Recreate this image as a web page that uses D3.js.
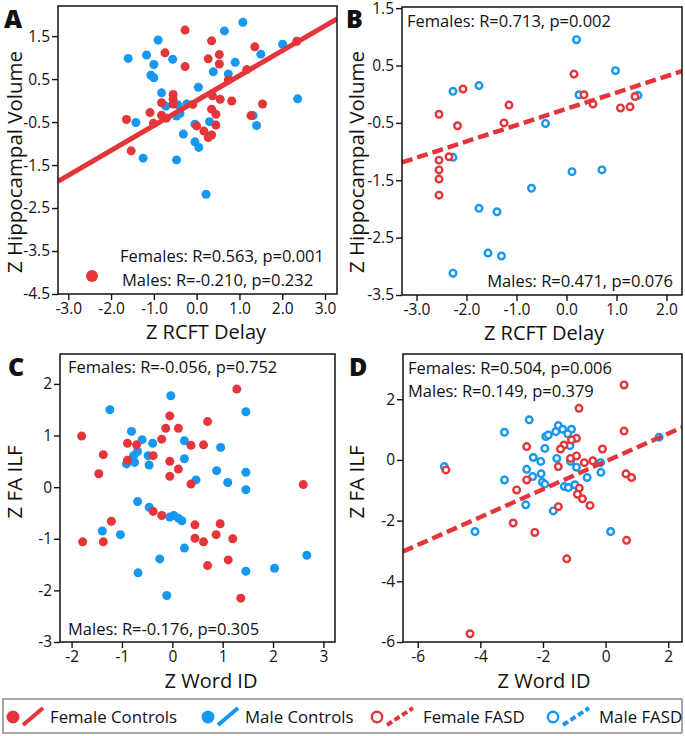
<!DOCTYPE html>
<html><head><meta charset="utf-8">
<script src="https://cdn.jsdelivr.net/npm/d3@7"></script>
<style>
body{margin:0;background:#fff}
svg{display:block}
text{font-family:"Open Sans",sans-serif;fill:#111}
</style>
</head><body>
<svg id="chart" width="685" height="736"></svg>
<script>
// ---------- DATA ----------
// Panel A: Z RCFT Delay vs Z Hippocampal Volume (controls)
const aFemale = [[-0.27,1.64],[0.35,1.39],[-0.74,1.11],[0.53,1.07],[0.27,0.97],[0.53,0.85],[-0.27,0.79],[1.36,1.25],[2.34,1.38],[1.17,0.72],[0.74,0.48],[-0.55,0.14],[-0.55,0.03],[-0.55,-0.08],[-0.82,-0.05],[-0.09,-0.09],[0.37,0.11],[0.55,0.03],[0.82,-0.01],[1.54,-0.08],[-1.09,-0.28],[-0.82,-0.34],[-0.71,-0.41],[-1.64,-0.44],[-1.01,-0.53],[0.35,-0.2],[0.45,-0.32],[0.45,-0.57],[0.0,-0.59],[0.17,-0.71],[0.35,-0.8],[0.27,-0.86],[1.27,-0.35],[-1.53,-1.17]];
const aMale = [[1.08,1.82],[0.65,1.62],[-0.9,1.41],[-1.17,1.06],[-1.6,0.98],[-1.0,0.84],[-0.56,0.96],[-1.07,0.59],[-1.0,0.53],[0.39,0.67],[0.9,0.89],[0.74,0.62],[2.01,1.31],[1.5,1.08],[0.04,0.31],[-0.82,0.18],[-0.72,-0.13],[-0.44,-0.1],[-0.23,-0.08],[-0.39,-0.3],[-0.47,-0.36],[2.36,0.04],[1.32,-0.35],[-1.42,-0.51],[1.4,-0.58],[0.3,-0.49],[-0.04,-0.55],[-0.31,-0.78],[-0.04,-0.96],[0.05,-1.09],[-1.25,-1.34],[-0.47,-1.38],[0.22,-2.18]];
const aFemaleFit = [0.58, 0.0];   // slope, intercept

// Panel B: Z RCFT Delay vs Z Hippocampal Volume (FASD)
const bFemale = [[-2.07,0.09],[-2.55,-0.35],[-2.18,-0.55],[-1.15,-0.19],[-1.25,-0.5],[-2.35,-1.09],[-2.55,-1.15],[-2.55,-1.32],[-2.55,-1.48],[-2.55,-1.76],[0.15,0.35],[0.35,-0.01],[0.53,-0.17],[1.08,-0.24],[1.27,-0.22],[1.37,-0.04]];
const bMale = [[0.2,0.95],[0.98,0.41],[-1.75,0.15],[-2.27,0.05],[0.25,-0.01],[1.43,-0.02],[-0.42,-0.51],[-2.27,-1.1],[0.11,-1.35],[0.71,-1.32],[-0.7,-1.64],[-1.75,-1.99],[-1.39,-2.05],[-1.57,-2.77],[-1.3,-2.82],[-2.27,-3.12]];
const bFemaleFit = [0.284, -0.255];

// Panel C: Z Word ID vs Z FA ILF (controls)
const cFemale = [[1.28,1.9],[-0.05,1.38],[0.7,1.27],[-0.13,1.14],[0.12,1.14],[-1.8,0.99],[-0.21,0.93],[-0.89,0.85],[-0.71,0.82],[0.37,0.81],[0.62,0.82],[-1.37,0.63],[-0.38,0.61],[-0.89,0.52],[-0.05,0.5],[0.12,0.35],[-1.46,0.26],[-0.05,0.21],[0.37,0.06],[2.6,0.05],[-0.38,-0.47],[-0.21,-0.55],[-1.21,-0.66],[0.45,-0.73],[0.95,-0.71],[0.87,-0.92],[0.45,-0.99],[0.62,-1.06],[1.2,-1.0],[-1.78,-1.06],[-1.37,-1.06],[1.11,-1.41],[0.7,-1.52],[1.36,-2.15]];
const cMale = [[-0.03,1.77],[-1.24,1.5],[1.46,1.46],[-0.81,1.08],[-0.6,0.92],[-0.39,0.85],[0.24,0.9],[0.96,0.77],[-0.69,0.69],[-0.77,0.61],[-0.48,0.61],[-0.91,0.45],[-0.75,0.48],[-0.46,0.43],[0.24,0.55],[0.88,0.32],[1.46,0.29],[0.47,0.14],[1.1,0.09],[1.46,-0.05],[-0.69,-0.28],[-0.46,-0.39],[-0.05,-0.58],[0.03,-0.55],[0.12,-0.6],[0.19,-0.65],[-1.39,-0.85],[-1.03,-0.92],[0.24,-1.18],[-0.25,-1.39],[2.67,-1.32],[-0.68,-1.66],[1.46,-1.63],[2.03,-1.57],[-0.11,-2.1]];

// Panel D: Z Word ID vs Z FA ILF (FASD)
const dFemale = [[0.59,2.47],[-0.85,1.7],[0.59,0.95],[-0.93,0.71],[-1.09,0.66],[-1.33,0.49],[-1.44,0.36],[-2.52,0.44],[-0.1,0.36],[-1.12,0.05],[-0.93,0.13],[-0.68,-0.09],[-0.41,-0.03],[-1.51,-0.22],[-5.1,-0.33],[0.65,-0.46],[0.83,-0.58],[-2.52,-0.66],[-0.84,-0.93],[-0.9,-1.13],[-0.74,-1.28],[-0.5,-1.5],[-1.51,-1.54],[-2.84,-0.99],[-2.95,-2.08],[-2.26,-2.39],[0.67,-2.65],[-1.24,-3.26],[-4.33,-5.73]];
const dMale = [[-2.44,1.32],[-3.23,0.91],[-1.51,1.13],[-1.59,0.93],[-1.91,0.77],[-1.83,0.82],[-1.37,1.01],[-1.09,1.01],[-1.21,0.86],[-1.14,0.47],[-1.94,0.38],[-2.31,0.08],[-2.07,-0.05],[-1.56,0.05],[-5.15,-0.22],[-1.12,-0.05],[-0.93,-0.24],[-0.16,-0.09],[-2.52,-0.31],[-0.15,-0.41],[-2.06,-0.46],[-2.33,-0.55],[-0.59,-0.58],[-3.23,-0.66],[-2.02,-0.73],[-1.94,-0.8],[-1.32,-0.88],[-1.19,-0.91],[-0.98,-0.82],[-2.55,-1.48],[-1.67,-1.68],[-4.17,-2.36],[0.16,-2.36],[1.71,0.75]];
const dFemaleFit = [0.459, -0.05];

// Tick values
const aXTicks = [-3,-2,-1,0,1,2,3];
const aYTicks = [1.5,0.5,-0.5,-1.5,-2.5,-3.5,-4.5];
const bXTicks = [-3,-2,-1,0,1,2];
const bYTicks = [1.5,0.5,-0.5,-1.5,-2.5,-3.5];
const cXTicks = [-2,-1,0,1,2,3];
const cYTicks = [2,1,0,-1,-2,-3];
const dXTicks = [-6,-4,-2,0,2];
const dYTicks = [2,0,-2,-4,-6];

// Stats labels
const statsA = ["Females: R=0.563, p=0.001","Males: R=-0.210, p=0.232"];
const statsB = ["Females: R=0.713, p=0.002","Males: R=0.471, p=0.076"];
const statsC = ["Females: R=-0.056, p=0.752","Males: R=-0.176, p=0.305"];
const statsD = ["Females: R=0.504, p=0.006","Males: R=0.149, p=0.379"];

const legendLabels = ["Female Controls","Male Controls","Female FASD","Male FASD"];

// ---------- STYLE / LAYOUT ----------
const RED = "#e4353a", BLUE = "#1697f0";
const svg = d3.select("#chart");
const f1 = d => d.toFixed(1), f0 = d => String(d);
const TICK_FS = 15.5, STAT_FS = 16.5, TITLE_FS = 20;

const panels = [
  {id:"A", box:[58,6,337,294], xd:[-3.24,3.28], yd:[-4.5,2.2], xt:aXTicks, yt:aYTicks, fmt:f1,
   female:aFemale, male:aMale, open:false, fit:aFemaleFit, dashed:false,
   xTitle:"Z RCFT Delay", yTitle:"Z Hippocampal Volume", xTitlePos:[206,339], yTitlePos:[22,162], yFs:20.5,
   label:[4,28], stats:statsA, statsPos:[[120,262,"start"],[122,286,"start"]], extraDot:[92,276]},
  {id:"B", box:[402,7,682,295], xd:[-3.29,2.31], yd:[-3.5,1.52], xt:bXTicks, yt:bYTicks, fmt:f1,
   female:bFemale, male:bMale, open:true, fit:bFemaleFit, dashed:true,
   xTitle:"Z RCFT Delay", yTitle:"Z Hippocampal Volume", xTitlePos:[544,340], yTitlePos:[364,162], yFs:20.5,
   label:[346,28], stats:statsB, statsPos:[[407,27,"start"],[673,287,"end"]]},
  {id:"C", box:[60,354,335,642], xd:[-2.23,3.23], yd:[-3.0,2.58], xt:cXTicks, yt:cYTicks, fmt:f0,
   female:cFemale, male:cMale, open:false, fit:null, dashed:false,
   xTitle:"Z Word ID", yTitle:"Z FA ILF", xTitlePos:[211,688], yTitlePos:[22,482], yFs:20.5,
   label:[8,376], stats:statsC, statsPos:[[68,373,"start"],[68,635,"start"]]},
  {id:"D", box:[403,354,682,642], xd:[-6.47,2.44], yd:[-6.0,3.49], xt:dXTicks, yt:dYTicks, fmt:f0,
   female:dFemale, male:dMale, open:true, fit:dFemaleFit, dashed:true,
   xTitle:"Z Word ID", yTitle:"Z FA ILF", xTitlePos:[544,688], yTitlePos:[364,482], yFs:20.5,
   label:[349,376], stats:statsD, statsPos:[[408,374,"start"],[408,397,"start"]]}
];

panels.forEach(p => {
  const [x0,y0,x1,y1] = p.box;
  const x = d3.scaleLinear().domain(p.xd).range([x0,x1]);
  const y = d3.scaleLinear().domain(p.yd).range([y1,y0]);
  const g = svg.append("g");
  const clipId = "clip"+p.id;
  svg.append("clipPath").attr("id",clipId).append("rect")
    .attr("x",x0).attr("y",y0).attr("width",x1-x0).attr("height",y1-y0);

  // axes
  const ax = g.append("g").attr("transform",`translate(0,${y1})`)
    .call(d3.axisBottom(x).tickValues(p.xt).tickFormat(p.fmt).tickSize(6).tickPadding(3));
  const ay = g.append("g").attr("transform",`translate(${x0},0)`)
    .call(d3.axisLeft(y).tickValues(p.yt).tickFormat(p.fmt).tickSize(6).tickPadding(2));
  [ax,ay].forEach(a => {
    a.select(".domain").remove();
    a.selectAll("line").attr("stroke","#111").attr("stroke-width",1.4);
    a.selectAll("text").attr("font-family","'Open Sans',sans-serif").attr("font-size",TICK_FS).attr("fill","#111");
  });

  const plot = g.append("g").attr("clip-path",`url(#${clipId})`);
  const drawDots = (data,color) => {
    const sel = plot.append("g").selectAll("circle").data(data).join("circle")
      .attr("cx",d=>x(d[0])).attr("cy",d=>y(d[1]));
    if (p.open) sel.attr("r",3.3).attr("fill","#fff").attr("stroke",color).attr("stroke-width",2.4);
    else sel.attr("r",4.5).attr("fill",color);
  };
  drawDots(p.male,BLUE);
  drawDots(p.female,RED);
  if (p.fit) {
    const [m,b] = p.fit;
    plot.append("line")
      .attr("x1",x(p.xd[0])).attr("y1",y(m*p.xd[0]+b))
      .attr("x2",x(p.xd[1])).attr("y2",y(m*p.xd[1]+b))
      .attr("stroke",RED).attr("stroke-width",p.dashed?4.5:5)
      .attr("stroke-dasharray",p.dashed?"11,5":null);
  }
  // frame
  g.append("rect").attr("x",x0).attr("y",y0).attr("width",x1-x0).attr("height",y1-y0)
    .attr("fill","none").attr("stroke","#111").attr("stroke-width",1.5);

  // stats
  p.stats.forEach((s,i) => {
    const [tx,ty,anc] = p.statsPos[i];
    g.append("text").attr("x",tx).attr("y",ty).attr("text-anchor",anc)
      .attr("font-size",STAT_FS).text(s);
  });
  if (p.extraDot) g.append("circle").attr("cx",p.extraDot[0]).attr("cy",p.extraDot[1]).attr("r",6).attr("fill",RED);

  // titles
  g.append("text").attr("x",p.xTitlePos[0]).attr("y",p.xTitlePos[1]).attr("text-anchor","middle")
    .attr("font-size",TITLE_FS).text(p.xTitle);
  g.append("text").attr("transform",`translate(${p.yTitlePos[0]},${p.yTitlePos[1]}) rotate(-90)`)
    .attr("text-anchor","middle").attr("font-size",p.yFs).text(p.yTitle);
  g.append("text").attr("x",p.label[0]).attr("y",p.label[1]).attr("font-size",25)
    .attr("font-weight",800).text(p.id);
});

// ---------- LEGEND ----------
const lg = svg.append("g");
lg.append("rect").attr("x",3).attr("y",699).attr("width",679).attr("height",34)
  .attr("fill","#fff").attr("stroke","#888").attr("stroke-width",1.5);
const legendItems = [
  {label:legendLabels[0], color:RED, open:false, cx:13},
  {label:legendLabels[1], color:BLUE, open:false, cx:208},
  {label:legendLabels[2], color:RED, open:true, cx:377},
  {label:legendLabels[3], color:BLUE, open:true, cx:553}
];
legendItems.forEach(it => {
  const cy = 717;
  if (it.open) lg.append("circle").attr("cx",it.cx).attr("cy",cy).attr("r",5.2).attr("fill","none")
    .attr("stroke",it.color).attr("stroke-width",2.4);
  else lg.append("circle").attr("cx",it.cx).attr("cy",cy).attr("r",6.5).attr("fill",it.color);
  lg.append("line").attr("x1",it.cx+10).attr("y1",cy+8).attr("x2",it.cx+(it.open?36:30)).attr("y2",cy-9)
    .attr("stroke",it.color).attr("stroke-width",4)
    .attr("stroke-dasharray",it.open?"6,3":null);
  lg.append("text").attr("x",it.cx+(it.open?46:37)).attr("y",cy+6).attr("font-size",16.8).text(it.label);
});
</script>
</body></html>
